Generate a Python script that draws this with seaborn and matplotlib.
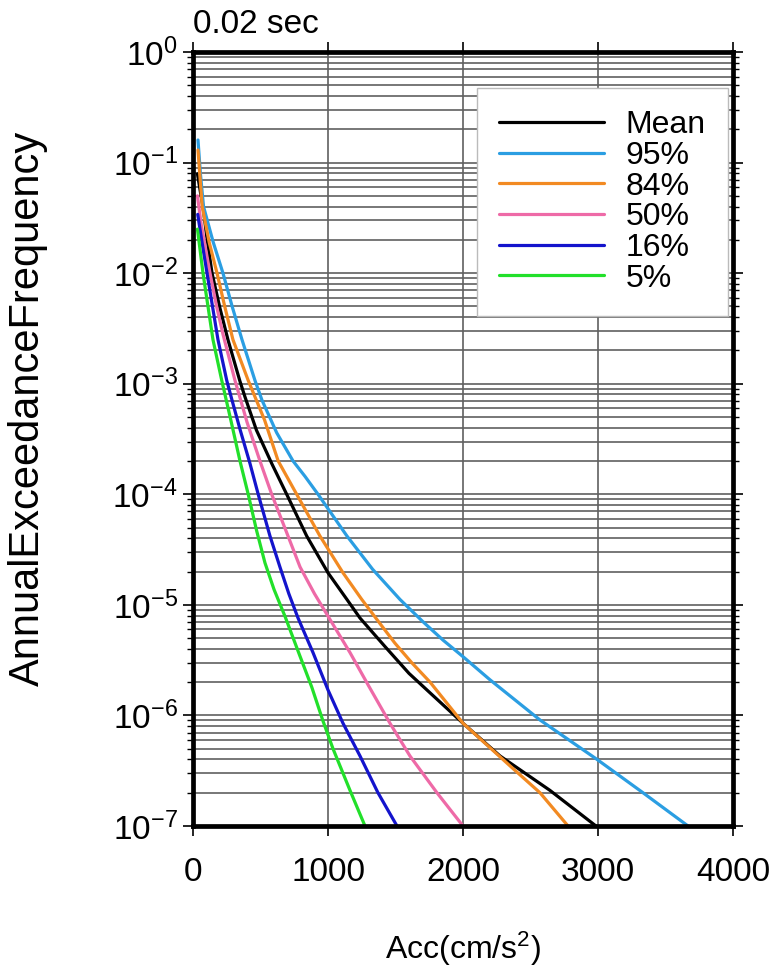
import numpy as np
import pandas as pd
import matplotlib
matplotlib.use("Agg")
import matplotlib.pyplot as plt
from matplotlib.ticker import LogLocator, FixedLocator, NullFormatter
import seaborn as sns

# hazard curves (acc in cm/s^2, annual exceedance frequency)
acc_mean = [33, 55, 74, 105, 141, 200, 259, 346, 385, 470, 583, 694, 842, 1000, 1140, 1237, 1422,
            1600, 1756, 2000, 2274, 2644, 2985]
afe_mean = [7.9e-2, 5.4e-2, 4.0e-2, 2.0e-2, 1.0e-2, 4.8e-3, 2.5e-3, 1.07e-3, 7.6e-4, 3.8e-4, 1.9e-4,
            1.0e-4, 4.2e-5, 1.95e-5, 1.12e-5, 7.6e-6, 4.2e-6, 2.4e-6, 1.6e-6, 8.5e-7, 4.3e-7, 2.1e-7, 1.0e-7]

acc_95 = [37, 55, 78, 150, 222, 290, 363, 459, 511, 620, 741, 830, 926, 1140, 1330, 1533, 1700, 1852,
          2000, 2200, 2570, 2993, 3333, 3667]
afe_95 = [1.6e-1, 7.9e-2, 4.0e-2, 1.9e-2, 1.0e-2, 5.0e-3, 2.5e-3, 1.07e-3, 7.1e-4, 3.6e-4, 2.0e-4,
          1.45e-4, 1.0e-4, 4.2e-5, 2.1e-5, 1.12e-5, 7.1e-6, 4.8e-6, 3.4e-6, 2.1e-6, 9.1e-7, 4.0e-7,
          2.0e-7, 1.0e-7]

acc_84 = [37, 50, 68, 120, 178, 235, 296, 409, 480, 530, 631, 768, 940, 1111, 1250, 1380, 1496, 1620,
          1756, 2000, 2348, 2570, 2778]
afe_84 = [1.3e-1, 7.9e-2, 4.0e-2, 1.9e-2, 1.0e-2, 5.0e-3, 2.5e-3, 1.07e-3, 6.6e-4, 4.7e-4, 2.0e-4,
          1.0e-4, 4.2e-5, 1.95e-5, 1.12e-5, 6.9e-6, 4.5e-6, 3.0e-6, 2.0e-6, 8.5e-7, 3.5e-7, 2.0e-7, 1.0e-7]

acc_50 = [33, 60, 126, 175, 222, 311, 400, 496, 583, 694, 793, 900, 1000, 1163, 1300, 1459, 1607,
          1807, 2000]
afe_50 = [5.0e-2, 2.8e-2, 1.0e-2, 5.0e-3, 2.8e-3, 1.07e-3, 4.5e-4, 2.0e-4, 1.0e-4, 4.5e-5, 2.2e-5,
          1.26e-5, 7.9e-6, 3.7e-6, 1.86e-6, 8.5e-7, 4.3e-7, 2.0e-7, 1.0e-7]

acc_16 = [35, 70, 104, 185, 250, 289, 350, 422, 483, 570, 644, 710, 778, 889, 1000, 1111, 1237, 1370, 1511]
afe_16 = [3.4e-2, 1.8e-2, 1.0e-2, 2.5e-3, 1.07e-3, 7.1e-4, 3.8e-4, 1.9e-4, 1.0e-4, 4.2e-5, 2.2e-5,
          1.26e-5, 7.6e-6, 3.7e-6, 1.7e-6, 8.5e-7, 4.3e-7, 2.0e-7, 1.0e-7]

acc_5 = [33, 74, 148, 213, 280, 348, 409, 471, 533, 600, 681, 790, 880, 963, 1037, 1163, 1274]
afe_5 = [2.5e-2, 1.0e-2, 2.5e-3, 1.07e-3, 4.7e-4, 2.0e-4, 1.0e-4, 4.7e-5, 2.4e-5, 1.38e-5, 7.9e-6,
         3.5e-6, 1.8e-6, 8.9e-7, 5.0e-7, 2.1e-7, 1.0e-7]

labels = ["Mean", "95%", "84%", "50%", "16%", "5%"]
colors = ["#000000", "#2b9ee2", "#f28a22", "#ee6aa7", "#1414cc", "#22e02a"]

curves = [(acc_mean, afe_mean), (acc_95, afe_95), (acc_84, afe_84),
          (acc_50, afe_50), (acc_16, afe_16), (acc_5, afe_5)]
frames = []
for lab, (a, f) in zip(labels, curves):
    frames.append(pd.DataFrame({"acc": a, "afe": f, "curve": lab}))
df = pd.concat(frames, ignore_index=True)

sns.set_style("ticks")
plt.rcParams["font.family"] = ["Liberation Sans", "DejaVu Sans"]
plt.rcParams["mathtext.fontset"] = "custom"
plt.rcParams["mathtext.rm"] = "Liberation Sans"
plt.rcParams["mathtext.it"] = "Liberation Sans"
plt.rcParams["text.color"] = "black"
plt.rcParams["axes.labelcolor"] = "black"

fig = plt.figure(figsize=(7.74, 9.73), dpi=100)
ax = fig.add_axes([193 / 774, 1 - 826 / 973, 540 / 774, 774 / 973])

sns.lineplot(data=df, x="acc", y="afe", hue="curve", hue_order=labels,
             palette=dict(zip(labels, colors)), linewidth=2.3, ax=ax,
             estimator=None, sort=False)

ax.set_yscale("log")
ax.set_xlim(0, 4000)
ax.set_ylim(1e-7, 1e0)
ax.xaxis.set_major_locator(FixedLocator([0, 1000, 2000, 3000, 4000]))
ax.yaxis.set_major_locator(LogLocator(base=10, numticks=20))
ax.yaxis.set_minor_locator(LogLocator(base=10, subs=np.arange(2, 10), numticks=20))
ax.yaxis.set_minor_formatter(NullFormatter())

ax.grid(which="major", axis="x", color="#606060", linewidth=1.2)
ax.grid(which="both", axis="y", color="#606060", linewidth=1.2)

for sp in ax.spines.values():
    sp.set_visible(True)
    sp.set_linewidth(3.4)
    sp.set_color("black")

ax.tick_params(which="both", direction="out", top=True, right=True, colors="black")
ax.tick_params(which="major", length=7, width=1.2, labelsize=24)
ax.tick_params(which="minor", length=4, width=1.0)
ax.tick_params(axis="x", pad=15)
ax.tick_params(axis="y", pad=4)

ax.set_xlabel("Acc(cm/s$^2$)", fontsize=23, labelpad=30, color="black")
ax.set_ylabel("AnnualExceedanceFrequency", fontsize=30, color="black")
ax.yaxis.set_label_coords(-0.2685, 0.54)
ax.text(0.0, 1.0245, "0.02 sec", transform=ax.transAxes, fontsize=24,
        ha="left", va="baseline", color="black")

leg = ax.legend(loc="upper right", bbox_to_anchor=(0.9907, 0.9535), borderaxespad=0,
                fontsize=23, handlelength=3.3, handletextpad=0.66, labelspacing=0.02,
                frameon=True, fancybox=False, framealpha=1, edgecolor="#bbbbbb",
                borderpad=0.7, title=None)
leg.get_frame().set_linewidth(1.0)
for line in leg.get_lines():
    line.set_linewidth(2.3)
for t in leg.get_texts():
    t.set_color("black")

fig.savefig("out.png", dpi=100)
